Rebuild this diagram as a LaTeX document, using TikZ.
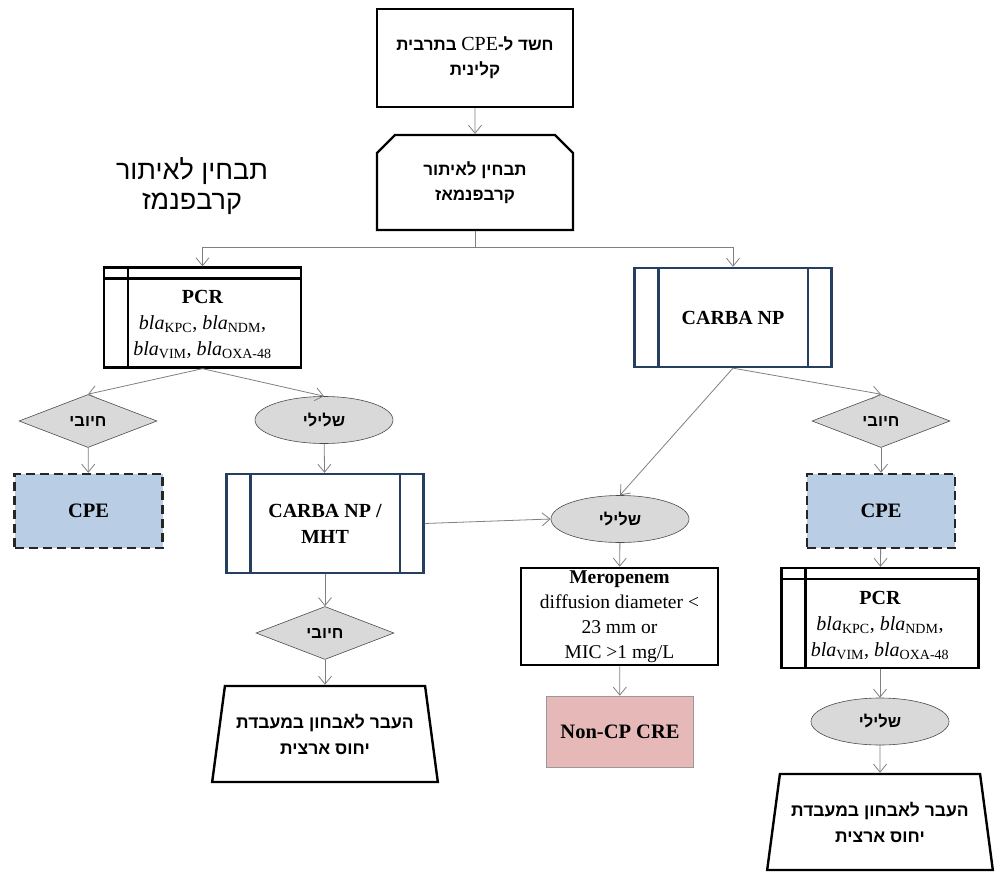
\documentclass[tikz,border=0pt]{standalone}
\usepackage{fontspec}
\setmainfont{Liberation Serif}
\newfontfamily\hebfont[Script=Hebrew]{Liberation Sans}
\usetikzlibrary{arrows.meta,shapes.geometric,shapes.misc}
\TeXXeTstate=1
\definecolor{navy}{HTML}{243F60}
\definecolor{boxgray}{HTML}{D9D9D9}
\definecolor{cpeblue}{HTML}{B9CDE5}
\definecolor{crepink}{HTML}{E6B9B8}
\newcommand{\heb}[1]{{\hebfont\bfseries\beginR #1\endR}}

\begin{document}
\begin{tikzpicture}[x=1pt,y=-1pt,
  arr/.style={draw=gray, line width=0.8pt, -{Straight Barb[length=8pt,width=13pt]}},
  box/.style={draw=black, line width=2.3pt, fill=white, align=center, inner sep=2pt},
  hebbox/.style={box, font=\fontsize{17}{25}\selectfont},
  procbox/.style={box, draw=navy, minimum width=197pt, minimum height=99pt,
    font=\fontsize{20}{26}\selectfont\bfseries},
  pcrbox/.style={box, minimum width=197pt, minimum height=100pt,
    font=\fontsize{20}{26}\selectfont},
  yesbox/.style={diamond, draw=black!70, line width=0.6pt, fill=boxgray,
    minimum width=138pt, minimum height=53pt, inner sep=0pt, font=\fontsize{16.5}{20}\selectfont},
  nobox/.style={ellipse, draw=black!70, line width=0.6pt, fill=boxgray,
    minimum width=138pt, minimum height=47pt, inner sep=0pt, font=\fontsize{16.5}{20}\selectfont},
  cpebox/.style={draw=black!85, line width=2.4pt, dash pattern=on 9pt off 5pt, fill=cpeblue,
    minimum width=148pt, minimum height=74pt, font=\fontsize{20.5}{26}\selectfont\bfseries},
  refbox/.style={trapezium, trapezium left angle=76, trapezium right angle=76,
    trapezium stretches=true, draw=black, line width=2.4pt, align=center,
    minimum width=226pt, minimum height=96pt, font=\fontsize{17.5}{26}\selectfont},
  band/.style={line width=2.3pt}]
\useasboundingbox (0,0) rectangle (1002,875);

% top of the chart
\node[hebbox, minimum width=196pt, minimum height=98pt] (suspect) at (475,58)
  {\heb{חשד ל-\beginL{\normalfont\fontsize{20}{25}\selectfont CPE}\endL{} בתרבית}\\\heb{קלינית}};
\node[hebbox, chamfered rectangle, chamfered rectangle corners={north west,north east},
  chamfered rectangle xsep=10pt, chamfered rectangle ysep=8pt,
  minimum width=196pt, minimum height=95pt] (screen) at (475,182.5)
  {\heb{תבחין לאיתור}\\\heb{קרבפנמאז}};
\node[align=center, font=\fontsize{27}{30}\selectfont\hebfont] (screenlbl) at (192,186)
  {\beginR תבחין לאיתור\endR\\\beginR קרבפנמז\endR};

% first tests
\node[pcrbox] (pcrA) at (202.5,317.5)
  {\rule{0pt}{28pt}\textbf{PCR}\\\textit{bla}\textsubscript{KPC}, \textit{bla}\textsubscript{NDM},\\
   \textit{bla}\textsubscript{VIM}, \textit{bla}\textsubscript{OXA-48}};
\draw[band] ([yshift=-12pt]pcrA.north west) -- ([yshift=-12pt]pcrA.north east);
\draw[band] ([xshift=25pt]pcrA.north west) -- ([xshift=25pt]pcrA.south west);

\node[procbox] (carbaA) at (733,317.5) {CARBA NP};
\draw[band, navy] ([xshift=25pt]carbaA.north west) -- ([xshift=25pt]carbaA.south west);
\draw[band, navy] ([xshift=-25pt]carbaA.north east) -- ([xshift=-25pt]carbaA.south east);

% left branch
\node[yesbox] (posA) at (88,421) {\heb{חיובי}};
\node[nobox] (negA) at (324,420) {\heb{שלילי}};
\node[cpebox] (cpeA) at (88.5,511) {CPE};
\node[procbox] (carbaB) at (325,523.5) {CARBA NP /\\MHT};
\draw[band, navy] ([xshift=25pt]carbaB.north west) -- ([xshift=25pt]carbaB.south west);
\draw[band, navy] ([xshift=-25pt]carbaB.north east) -- ([xshift=-25pt]carbaB.south east);
\node[yesbox] (posB) at (325,633) {\heb{חיובי}};
\node[refbox] (refA) at (325,734) {\heb{העבר לאבחון במעבדת}\\\heb{יחוס ארצית}};

% middle branch
\node[nobox] (negB) at (620,519) {\heb{שלילי}};
\node[box, line width=2.6pt, minimum width=197pt, minimum height=97pt,
  font=\fontsize{19.5}{25}\selectfont] (mero) at (619.5,616.5)
  {\textbf{Meropenem}\\diffusion diameter <\\23 mm or\\MIC >1 mg/L};
\node[draw=black!40, line width=0.6pt, fill=crepink, minimum width=147pt, minimum height=71pt,
  font=\fontsize{20.5}{26}\selectfont\bfseries] (noncp) at (620,731.5) {Non-CP CRE};

% right branch
\node[yesbox] (posC) at (881,421) {\heb{חיובי}};
\node[cpebox] (cpeB) at (881,511) {CPE};
\node[pcrbox] (pcrB) at (880,618)
  {\rule{0pt}{28pt}\textbf{PCR}\\\textit{bla}\textsubscript{KPC}, \textit{bla}\textsubscript{NDM},\\
   \textit{bla}\textsubscript{VIM}, \textit{bla}\textsubscript{OXA-48}};
\draw[band] ([yshift=-12pt]pcrB.north west) -- ([yshift=-12pt]pcrB.north east);
\draw[band] ([xshift=25pt]pcrB.north west) -- ([xshift=25pt]pcrB.south west);
\node[nobox] (negC) at (880,721.5) {\heb{שלילי}};
\node[refbox] (refB) at (880,822) {\heb{העבר לאבחון במעבדת}\\\heb{יחוס ארצית}};

% connectors
\coordinate (split) at (475,247);
\draw[arr] (suspect) -- (screen);
\draw[draw=gray, line width=0.8pt] (screen.south) -- (split);
\draw[arr] (split) -| (pcrA.north);
\draw[arr] (split) -| (carbaA.north);
\draw[arr] (pcrA.south) -- (posA.north);
\draw[arr] (pcrA.south) -- (negA.north);
\draw[arr] (posA) -- (cpeA);
\draw[arr] (negA) -- (carbaB);
\draw[arr] (carbaB) -- (posB);
\draw[arr] (posB) -- (refA);
\draw[arr] (carbaB.east) -- (negB.west);
\draw[arr] (carbaA.south) -- (negB.north);
\draw[arr] (negB) -- (mero);
\draw[arr] (mero) -- (noncp);
\draw[arr] (carbaA.south) -- (posC.north);
\draw[arr] (posC) -- (cpeB);
\draw[arr] (cpeB) -- (pcrB);
\draw[arr] (pcrB) -- (negC);
\draw[arr] (negC) -- (refB);
\end{tikzpicture}
\end{document}
